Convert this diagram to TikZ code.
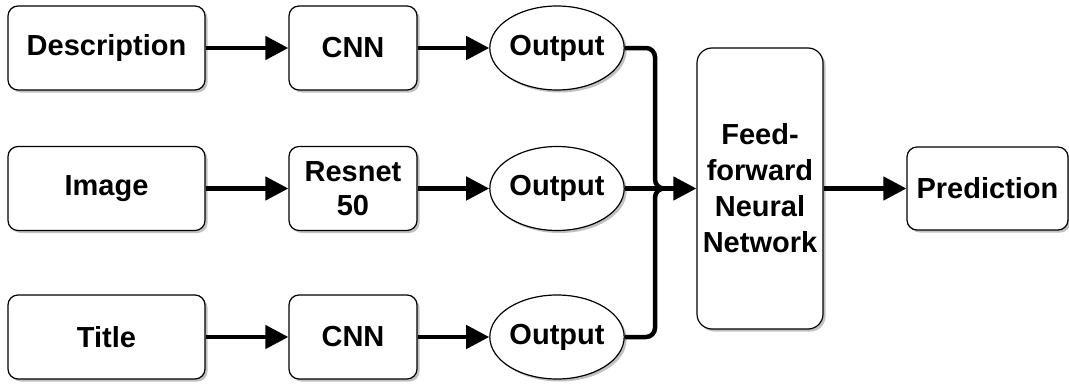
\documentclass[tikz,border=0pt]{standalone}
\usepackage{fontspec}
\setmainfont{Liberation Sans}
\usetikzlibrary{arrows.meta,shapes.geometric,shadows}
\begin{document}
\begin{tikzpicture}[x=1pt,y=-1pt,
  shad/.style={drop shadow={shadow xshift=2.5pt,shadow yshift=-2.5pt,fill=black!30,opacity=0.8}},
  blk/.style={draw=black,line width=1.2pt,fill=white,rounded corners=10pt,shad,
    minimum height=84pt,inner sep=0pt,align=center,
    font=\fontsize{29}{34}\selectfont\bfseries},
  oval/.style={ellipse,draw=black,line width=1.2pt,fill=white,shad,
    minimum width=112pt,minimum height=84pt,inner sep=0pt,
    font=\fontsize{29}{34}\selectfont\bfseries},
  conn/.style={line width=4.5pt,-{Triangle[length=23pt,width=23pt]}},
  plain/.style={line width=4.5pt,rounded corners=9pt}]
\useasboundingbox (0,0) rectangle (1069,388);
\node[blk,minimum width=197pt] (desc) at (106.5,48) {Description};
\node[blk,minimum width=128pt] (cnn1) at (353,48) {CNN};
\node[oval] (o1) at (557,48) {Output};
\node[blk,minimum width=197pt] (img) at (106.5,188.5) {Image};
\node[blk,minimum width=128pt] (res) at (353,188.5) {Resnet\\50};
\node[oval] (o2) at (557,188.5) {Output};
\node[blk,minimum width=197pt] (title) at (106.5,337) {Title};
\node[blk,minimum width=128pt] (cnn2) at (353,337) {CNN};
\node[oval] (o3) at (557,337) {Output};
\node[blk,minimum width=126pt,minimum height=281pt,rounded corners=15pt,
  font=\fontsize{29}{36}\selectfont\bfseries] (ff) at (760,188.5) {Feed-\\forward\\Neural\\Network};
\node[blk,minimum width=161pt,minimum height=83pt] (pred) at (987.5,188.5) {Prediction};
\coordinate (j) at (655,188.5);
\draw[conn] (desc) -- (cnn1);
\draw[conn] (cnn1) -- (o1);
\draw[conn] (img) -- (res);
\draw[conn] (res) -- (o2);
\draw[conn] (title) -- (cnn2);
\draw[conn] (cnn2) -- (o3);
\draw[plain] (o1.east) -| (j) -- ++(12,0);
\draw[plain] (o3.east) -| (j) -- ++(12,0);
\draw[conn] (o2) -- (ff.west);
\draw[conn] (ff) -- (pred);
\end{tikzpicture}
\end{document}
